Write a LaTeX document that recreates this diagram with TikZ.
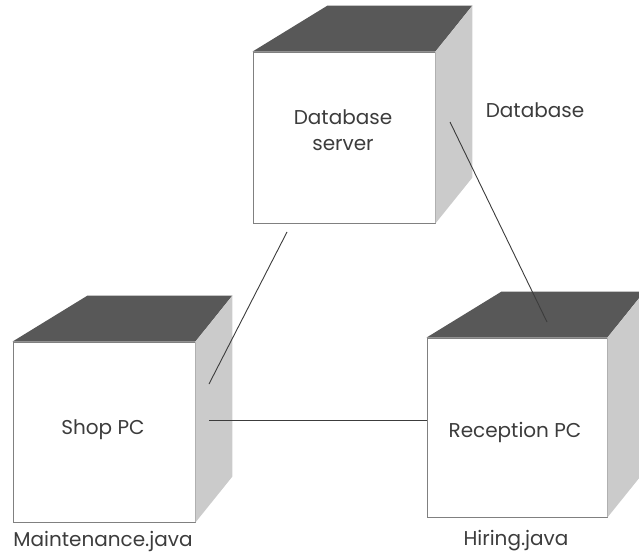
\documentclass[tikz,border=0pt]{standalone}
\usepackage{fontspec}
\setmainfont{Poppins}
\usetikzlibrary{calc}

\definecolor{topgray}{HTML}{585858}
\definecolor{sidegray}{HTML}{CBCBCB}
\definecolor{edgegray}{HTML}{808080}
\definecolor{inkgray}{HTML}{3C3C3C}

\begin{document}
\begin{tikzpicture}[x=1pt,y=-1pt,
  every node/.style={text=inkgray,font=\fontsize{20}{26}\selectfont},
  frontface/.style={draw=edgegray,fill=white,line width=0.9pt,minimum width=182pt,inner sep=0pt},
  topface/.style={fill=topgray},
  sideface/.style={fill=sidegray},
  link/.style={draw=inkgray,line width=0.9pt}]
\useasboundingbox (0,0) rectangle (639,553);
\node[frontface,minimum height=171pt] (db) at (344,137.5) {};
\node[frontface,minimum height=180pt] (shop) at (104,432) {};
\node[frontface,minimum width=180pt,minimum height=179pt] (rec) at (517,427.5) {};
\foreach \n in {db,shop,rec}{
  \fill[topface] (\n.north west) -- ++(75,-46) -- ($(\n.north east)+(37,-46)$) -- (\n.north east) -- cycle;
  \fill[sideface] (\n.north east) -- ++(37,-46) -- ($(\n.south east)+(37,-46)$) -- (\n.south east) -- cycle;
}
\node[align=center] (dbtxt) at (343,130) {Database\\server};
\node (shoptxt) at (103,430) {Shop PC};
\node (rectxt) at (515,432) {Reception PC};
\node (dblbl) at (535,110) {Database};
\node (shoplbl) at (103,541) {Maintenance.java};
\node (reclbl) at (516,541) {Hiring.java};
\coordinate (dbS) at (287,232); \coordinate (shopN) at (209,384);
\coordinate (dbE) at (450,122); \coordinate (recN) at (547,322);
\coordinate (shopE) at (209,420); \coordinate (recW) at (rec.west|-shopE);
\draw[link] (dbS) -- (shopN);
\draw[link] (dbE) -- (recN);
\draw[link] (shopE) -- (recW);
\end{tikzpicture}
\end{document}
